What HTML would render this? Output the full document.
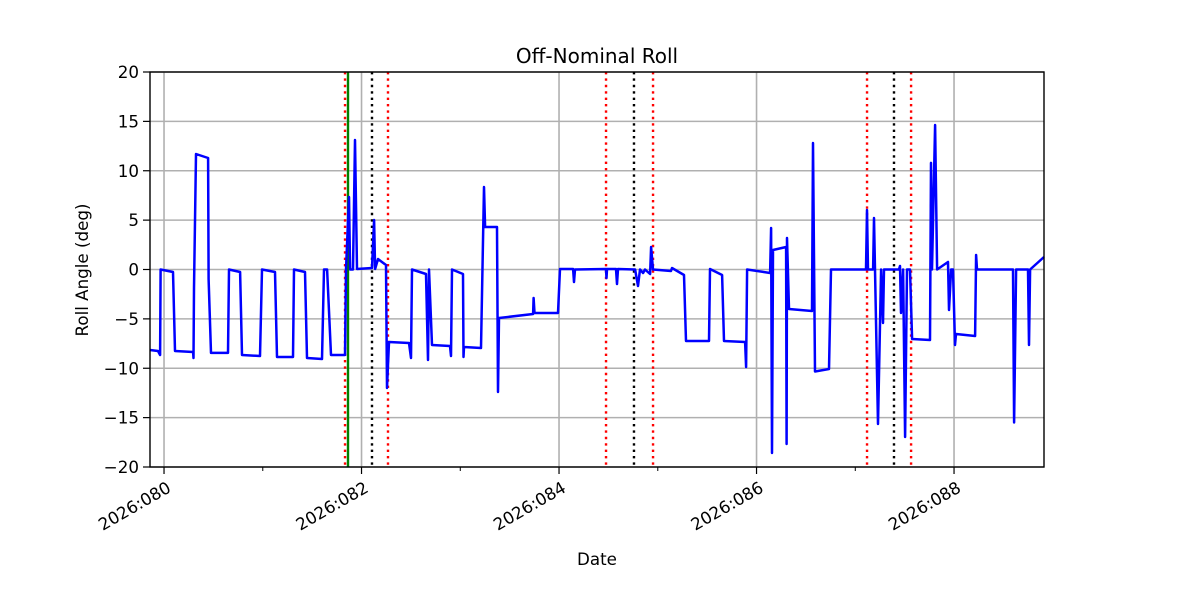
<!DOCTYPE html>
<html><head><meta charset="utf-8"><style>
body{margin:0;background:#fff}
svg{display:block;font-family:"DejaVu Sans","Liberation Sans",sans-serif}
</style></head><body>
<svg id="chart" width="1200" height="600" viewBox="0 0 1200 600" xmlns="http://www.w3.org/2000/svg">
<rect width="1200" height="600" fill="#fff"/>
<g id="grid"></g><g id="events"></g><g id="series"></g><g id="axes"></g>
<text x="597" y="63" font-size="20" text-anchor="middle">Off-Nominal Roll</text>
<text x="597" y="565" font-size="16.7" text-anchor="middle">Date</text>
<text transform="translate(88,270) rotate(-90)" font-size="16.7" text-anchor="middle">Roll Angle (deg)</text>
</svg>
<script>
const days=[79.858,79.939,79.960,79.965,80.091,80.111,80.294,80.299,80.304,80.324,80.446,80.451,80.476,80.648,80.658,80.770,80.790,80.972,80.992,81.124,81.144,81.306,81.316,81.428,81.448,81.600,81.620,81.651,81.691,81.833,81.843,81.873,81.884,81.914,81.934,81.954,82.106,82.127,82.137,82.167,82.248,82.258,82.278,82.481,82.501,82.511,82.653,82.673,82.683,82.714,82.896,82.906,82.916,83.028,83.033,83.038,83.210,83.240,83.251,83.372,83.382,83.392,83.737,83.742,83.752,83.990,84.010,84.142,84.152,84.162,84.476,84.481,84.486,84.577,84.587,84.597,84.770,84.800,84.820,84.851,84.871,84.922,84.932,84.952,85.134,85.144,85.266,85.286,85.519,85.529,85.651,85.671,85.884,85.894,85.904,86.137,86.147,86.157,86.167,86.299,86.304,86.309,86.329,86.562,86.572,86.592,86.734,86.754,87.109,87.119,87.129,87.180,87.190,87.200,87.230,87.261,87.281,87.291,87.443,87.453,87.463,87.484,87.504,87.524,87.554,87.575,87.757,87.767,87.777,87.808,87.828,87.939,87.949,87.970,87.990,88.010,88.020,88.213,88.223,88.233,88.597,88.608,88.628,88.749,88.759,88.770,88.911];
const roll=[-8.15,-8.25,-8.66,0,-0.25,-8.25,-8.35,-8.96,-1.87,11.70,11.29,-0.96,-8.45,-8.45,0,-0.25,-8.66,-8.76,0,-0.25,-8.86,-8.86,0,-0.25,-8.96,-9.06,0,0,-8.66,-8.66,0,7.34,0,0,13.11,0.05,0.15,5.01,0.05,1.06,0.46,-12.0,-7.34,-7.44,-8.96,0,-0.46,-9.16,0,-7.65,-7.75,-8.76,0,-0.46,-8.86,-7.85,-7.95,8.35,4.30,4.30,-12.41,-4.91,-4.51,-2.89,-4.41,-4.41,0.05,0.05,-1.27,0,0.05,-0.86,0.05,0.05,-1.47,0.05,0,-1.67,0,-0.35,0,-0.46,2.28,0,-0.15,0.15,-0.56,-7.24,-7.24,0.05,-0.56,-7.24,-7.34,-9.87,0,-0.35,4.20,-18.58,1.97,2.28,-17.67,3.19,-4.00,-4.20,12.81,-10.33,-10.08,0,0,6.03,0,0,5.22,0,-15.65,0,-5.42,0,0,0.35,-4.41,0,-16.96,0,0,-7.04,-7.14,10.79,0,14.63,0,0.76,-4.10,0,0,-7.65,-6.53,-6.73,1.47,0,0,-15.49,0,0,-7.65,0,1.27];
const redEvents=[81.833,82.268,84.476,84.952,87.119,87.565];
const blackEvents=[82.106,84.759,87.392];
const greenEvents=[81.863];
const xTickDays=[80,82,84,86,88];
const xTickLabels=["2026:080","2026:082","2026:084","2026:086","2026:088"];
const xMinorDays=[81,83,85,87];
const yTicks=[-20,-15,-10,-5,0,5,10,15,20];

const L=150,R=1044,T=72,B=467,X0=79.858,X1=88.911,Y0=-20,Y1=20;
const sx=d=>L+(d-X0)/(X1-X0)*(R-L);
const sy=v=>B-(v-Y0)/(Y1-Y0)*(B-T);
const NS="http://www.w3.org/2000/svg";
function mk(tag,attrs,parent){const e=document.createElementNS(NS,tag);for(const k in attrs)e.setAttribute(k,attrs[k]);parent.appendChild(e);return e;}
const grid=document.getElementById('grid'),ev=document.getElementById('events'),ser=document.getElementById('series'),ax=document.getElementById('axes');
yTicks.forEach(v=>{
  const g=mk('line',{x1:L,x2:R,y1:sy(v),y2:sy(v),stroke:'#b0b0b0','stroke-width':1.6},grid);
  
  
  const t=mk('line',{x1:L-7,x2:L,y1:sy(v),y2:sy(v),stroke:'#000','stroke-width':1.2},ax);
  
  
  const lb=mk('text',{x:L-11,y:sy(v)+6,'font-size':16.7,'text-anchor':'end'},ax);
  lb.textContent=(v<0?'\u2212'+(-v):''+v);
  
  
});
xTickDays.forEach((d,i)=>{
  const g=mk('line',{x1:sx(d),x2:sx(d),y1:T,y2:B,stroke:'#b0b0b0','stroke-width':1.6},grid);
  
  
  const t=mk('line',{x1:sx(d),x2:sx(d),y1:B,y2:B+7,stroke:'#000','stroke-width':1.2},ax);
  
  
  const lb=mk('text',{x:0,y:0,'font-size':16.7,'text-anchor':'end',transform:`translate(${sx(d)+8},${B+24}) rotate(-30)`},ax);
  lb.textContent=xTickLabels[i];
  
  
});
xMinorDays.forEach(d=>{
  const t=mk('line',{x1:sx(d),x2:sx(d),y1:B,y2:B+4,stroke:'#000','stroke-width':1},ax);
  
  
});
function evLine(d,color,dash,name){
  const e=mk('line',{x1:sx(d),x2:sx(d),y1:T,y2:B,stroke:color,'stroke-width':2.4},ev);
  if(dash)e.setAttribute('stroke-dasharray',dash);
  
  
}
redEvents.forEach(d=>evLine(d,'#ff0000','2.4 4','red-event-line'));
blackEvents.forEach(d=>evLine(d,'#000','2.4 4','black-event-line'));
greenEvents.forEach(d=>evLine(d,'#008000',null,'green-event-line'));
const pts=days.map((d,i)=>sx(d).toFixed(1)+','+sy(roll[i]).toFixed(1)).join(' ');
const pl=mk('polyline',{points:pts,fill:'none',stroke:'#0000ff','stroke-width':2.5,'stroke-linejoin':'round'},ser);


const fr=mk('rect',{x:L,y:T,width:R-L,height:B-T,fill:'none',stroke:'#000','stroke-width':1.4},ax);


</script>
</body></html>
